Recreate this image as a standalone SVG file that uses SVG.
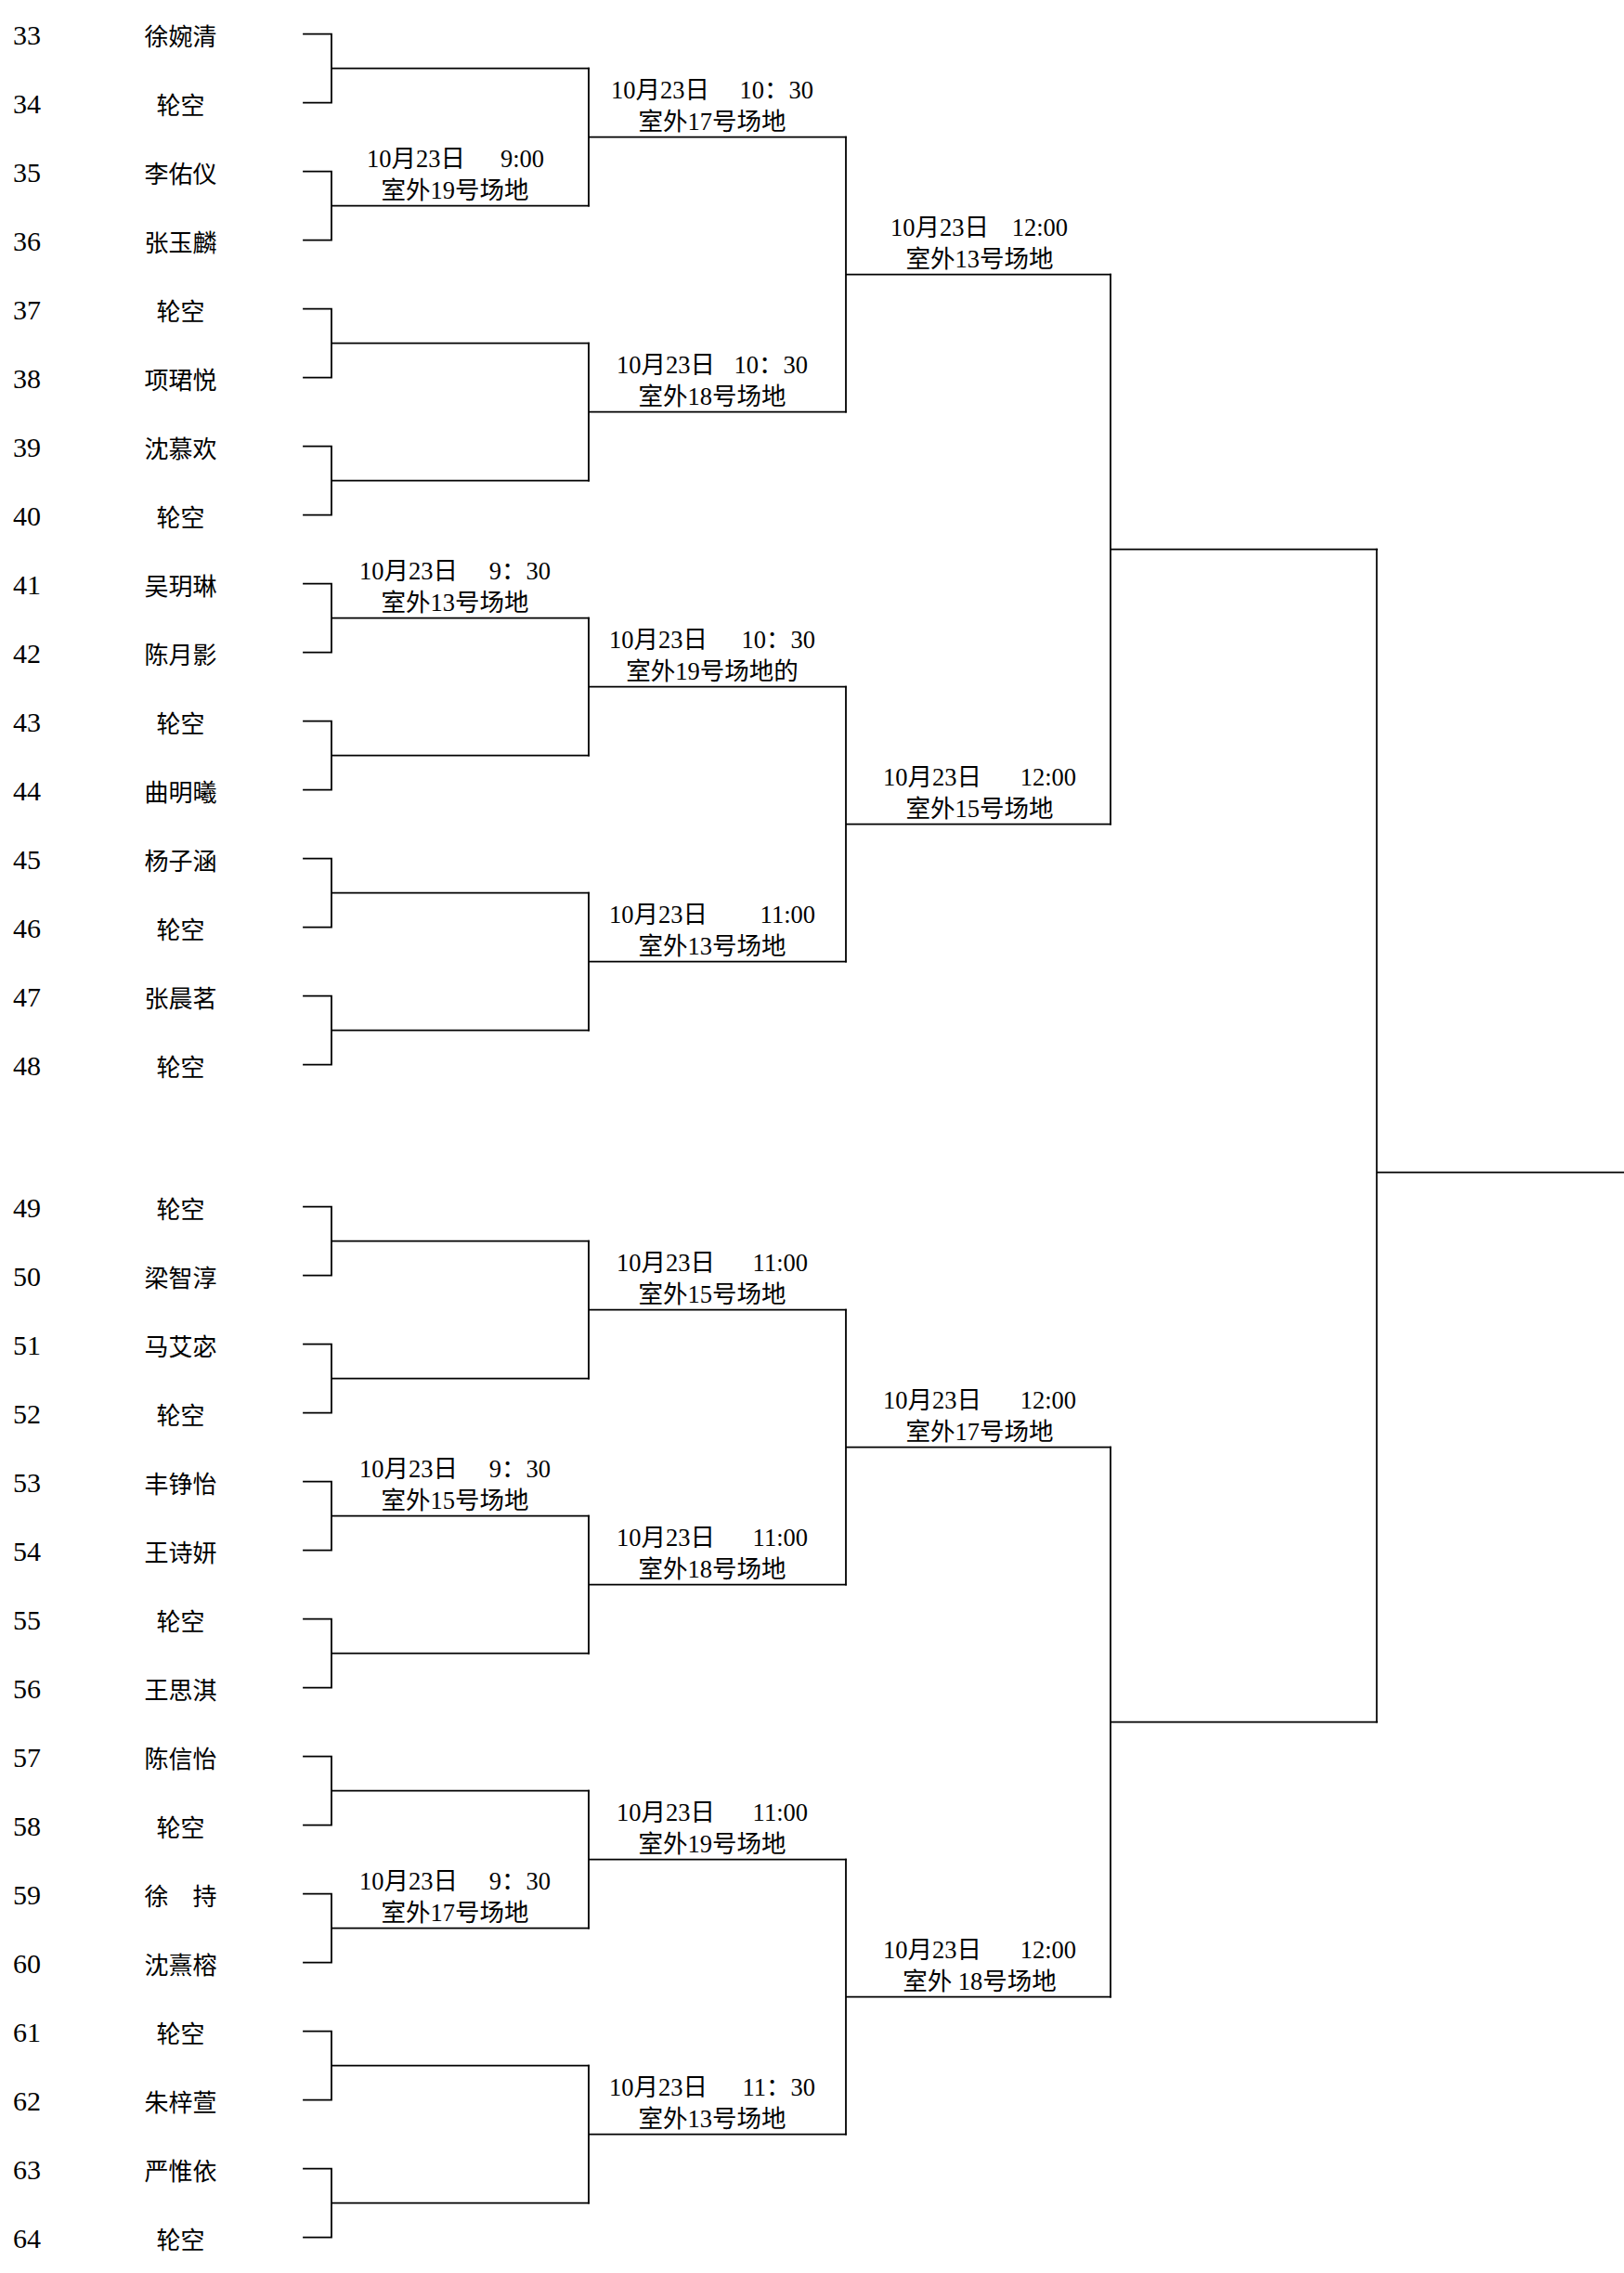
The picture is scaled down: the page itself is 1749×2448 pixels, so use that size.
<svg xmlns="http://www.w3.org/2000/svg" width="1749" height="2448" viewBox="0 0 1749 2448">
<style>
.num{font-family:"Liberation Serif",serif;font-size:30px;fill:#000}
.name{font-family:"Liberation Serif","Noto Sans CJK SC",sans-serif;font-size:26px;fill:#000;text-anchor:middle}
.lbl{font-family:"Liberation Serif","Noto Sans CJK SC",serif;font-size:26.5px;fill:#000}
.c2{text-anchor:middle}
.ln{fill:none;stroke:#000;stroke-width:1.8;stroke-linecap:square;stroke-linejoin:miter}
</style>
<rect x="0" y="0" width="1749" height="2448" fill="#fff"/>
<g id="connectors" class="ln">
<path d="M327 36.7H357V110.7H327M357 73.7H634"/>
<path d="M327 184.7H357V258.7H327M357 221.7H634"/>
<path d="M327 332.7H357V406.7H327M357 369.7H634"/>
<path d="M327 480.7H357V554.7H327M357 517.7H634"/>
<path d="M327 628.7H357V702.7H327M357 665.7H634"/>
<path d="M327 776.7H357V850.7H327M357 813.7H634"/>
<path d="M327 924.7H357V998.7H327M357 961.7H634"/>
<path d="M327 1072.7H357V1146.7H327M357 1109.7H634"/>
<path d="M634 73.7V221.7M634 147.7H911"/>
<path d="M634 369.7V517.7M634 443.7H911"/>
<path d="M634 665.7V813.7M634 739.7H911"/>
<path d="M634 961.7V1109.7M634 1035.7H911"/>
<path d="M911 147.7V443.7M911 295.7H1196"/>
<path d="M911 739.7V1035.7M911 887.7H1196"/>
<path d="M1196 295.7V887.7M1196 591.7H1482.7"/>
<path d="M327 1299.7H357V1373.7H327M357 1336.7H634"/>
<path d="M327 1447.7H357V1521.7H327M357 1484.7H634"/>
<path d="M327 1595.7H357V1669.7H327M357 1632.7H634"/>
<path d="M327 1743.7H357V1817.7H327M357 1780.7H634"/>
<path d="M327 1891.7H357V1965.7H327M357 1928.7H634"/>
<path d="M327 2039.7H357V2113.7H327M357 2076.7H634"/>
<path d="M327 2187.7H357V2261.7H327M357 2224.7H634"/>
<path d="M327 2335.7H357V2409.7H327M357 2372.7H634"/>
<path d="M634 1336.7V1484.7M634 1410.7H911"/>
<path d="M634 1632.7V1780.7M634 1706.7H911"/>
<path d="M634 1928.7V2076.7M634 2002.7H911"/>
<path d="M634 2224.7V2372.7M634 2298.7H911"/>
<path d="M911 1410.7V1706.7M911 1558.7H1196"/>
<path d="M911 2002.7V2298.7M911 2150.7H1196"/>
<path d="M1196 1558.7V2150.7M1196 1854.7H1482.7"/>
<path d="M1482.7 591.7V1854.7M1482.7 1262.7H1749"/>
</g>
<g id="p33" transform="translate(0,36.7)"><text class="num" x="14" y="11.5">33</text><text class="name" x="194.5" y="12">徐婉清</text></g>
<g id="p34" transform="translate(0,110.7)"><text class="num" x="14" y="11.5">34</text><text class="name" x="194.5" y="12">轮空</text></g>
<g id="p35" transform="translate(0,184.7)"><text class="num" x="14" y="11.5">35</text><text class="name" x="194.5" y="12">李佑仪</text></g>
<g id="p36" transform="translate(0,258.7)"><text class="num" x="14" y="11.5">36</text><text class="name" x="194.5" y="12">张玉麟</text></g>
<g id="p37" transform="translate(0,332.7)"><text class="num" x="14" y="11.5">37</text><text class="name" x="194.5" y="12">轮空</text></g>
<g id="p38" transform="translate(0,406.7)"><text class="num" x="14" y="11.5">38</text><text class="name" x="194.5" y="12">项珺悦</text></g>
<g id="p39" transform="translate(0,480.7)"><text class="num" x="14" y="11.5">39</text><text class="name" x="194.5" y="12">沈慕欢</text></g>
<g id="p40" transform="translate(0,554.7)"><text class="num" x="14" y="11.5">40</text><text class="name" x="194.5" y="12">轮空</text></g>
<g id="p41" transform="translate(0,628.7)"><text class="num" x="14" y="11.5">41</text><text class="name" x="194.5" y="12">吴玥琳</text></g>
<g id="p42" transform="translate(0,702.7)"><text class="num" x="14" y="11.5">42</text><text class="name" x="194.5" y="12">陈月影</text></g>
<g id="p43" transform="translate(0,776.7)"><text class="num" x="14" y="11.5">43</text><text class="name" x="194.5" y="12">轮空</text></g>
<g id="p44" transform="translate(0,850.7)"><text class="num" x="14" y="11.5">44</text><text class="name" x="194.5" y="12">曲明曦</text></g>
<g id="p45" transform="translate(0,924.7)"><text class="num" x="14" y="11.5">45</text><text class="name" x="194.5" y="12">杨子涵</text></g>
<g id="p46" transform="translate(0,998.7)"><text class="num" x="14" y="11.5">46</text><text class="name" x="194.5" y="12">轮空</text></g>
<g id="p47" transform="translate(0,1072.7)"><text class="num" x="14" y="11.5">47</text><text class="name" x="194.5" y="12">张晨茗</text></g>
<g id="p48" transform="translate(0,1146.7)"><text class="num" x="14" y="11.5">48</text><text class="name" x="194.5" y="12">轮空</text></g>
<g id="p49" transform="translate(0,1299.7)"><text class="num" x="14" y="11.5">49</text><text class="name" x="194.5" y="12">轮空</text></g>
<g id="p50" transform="translate(0,1373.7)"><text class="num" x="14" y="11.5">50</text><text class="name" x="194.5" y="12">梁智淳</text></g>
<g id="p51" transform="translate(0,1447.7)"><text class="num" x="14" y="11.5">51</text><text class="name" x="194.5" y="12">马艾宓</text></g>
<g id="p52" transform="translate(0,1521.7)"><text class="num" x="14" y="11.5">52</text><text class="name" x="194.5" y="12">轮空</text></g>
<g id="p53" transform="translate(0,1595.7)"><text class="num" x="14" y="11.5">53</text><text class="name" x="194.5" y="12">丰铮怡</text></g>
<g id="p54" transform="translate(0,1669.7)"><text class="num" x="14" y="11.5">54</text><text class="name" x="194.5" y="12">王诗妍</text></g>
<g id="p55" transform="translate(0,1743.7)"><text class="num" x="14" y="11.5">55</text><text class="name" x="194.5" y="12">轮空</text></g>
<g id="p56" transform="translate(0,1817.7)"><text class="num" x="14" y="11.5">56</text><text class="name" x="194.5" y="12">王思淇</text></g>
<g id="p57" transform="translate(0,1891.7)"><text class="num" x="14" y="11.5">57</text><text class="name" x="194.5" y="12">陈信怡</text></g>
<g id="p58" transform="translate(0,1965.7)"><text class="num" x="14" y="11.5">58</text><text class="name" x="194.5" y="12">轮空</text></g>
<g id="p59" transform="translate(0,2039.7)"><text class="num" x="14" y="11.5">59</text><text class="name" x="194.5" y="12">徐　持</text></g>
<g id="p60" transform="translate(0,2113.7)"><text class="num" x="14" y="11.5">60</text><text class="name" x="194.5" y="12">沈熹榕</text></g>
<g id="p61" transform="translate(0,2187.7)"><text class="num" x="14" y="11.5">61</text><text class="name" x="194.5" y="12">轮空</text></g>
<g id="p62" transform="translate(0,2261.7)"><text class="num" x="14" y="11.5">62</text><text class="name" x="194.5" y="12">朱梓萱</text></g>
<g id="p63" transform="translate(0,2335.7)"><text class="num" x="14" y="11.5">63</text><text class="name" x="194.5" y="12">严惟依</text></g>
<g id="p64" transform="translate(0,2409.7)"><text class="num" x="14" y="11.5">64</text><text class="name" x="194.5" y="12">轮空</text></g>
<g id="m-35-36" class="lbl" transform="translate(0,221.7)"><text y="-42"><tspan x="395">10月23日</tspan><tspan x="586" text-anchor="end">9:00</tspan></text><text class="c2" x="490" y="-8">室外19号场地</text></g>
<g id="m-41-42" class="lbl" transform="translate(0,665.7)"><text y="-42"><tspan x="387">10月23日</tspan><tspan x="593" text-anchor="end">9：30</tspan></text><text class="c2" x="490" y="-8">室外13号场地</text></g>
<g id="m-33-36" class="lbl" transform="translate(0,147.7)"><text y="-42"><tspan x="658">10月23日</tspan><tspan x="876" text-anchor="end">10：30</tspan></text><text class="c2" x="767" y="-8">室外17号场地</text></g>
<g id="m-37-40" class="lbl" transform="translate(0,443.7)"><text y="-42"><tspan x="664">10月23日</tspan><tspan x="870" text-anchor="end">10：30</tspan></text><text class="c2" x="767" y="-8">室外18号场地</text></g>
<g id="m-41-44" class="lbl" transform="translate(0,739.7)"><text y="-42"><tspan x="656">10月23日</tspan><tspan x="878" text-anchor="end">10：30</tspan></text><text class="c2" x="767" y="-8">室外19号场地的</text></g>
<g id="m-45-48" class="lbl" transform="translate(0,1035.7)"><text y="-42"><tspan x="656">10月23日</tspan><tspan x="878" text-anchor="end">11:00</tspan></text><text class="c2" x="767" y="-8">室外13号场地</text></g>
<g id="m-33-40" class="lbl" transform="translate(0,295.7)"><text y="-42"><tspan x="959">10月23日</tspan><tspan x="1150" text-anchor="end">12:00</tspan></text><text class="c2" x="1055" y="-8">室外13号场地</text></g>
<g id="m-41-48" class="lbl" transform="translate(0,887.7)"><text y="-42"><tspan x="951">10月23日</tspan><tspan x="1159" text-anchor="end">12:00</tspan></text><text class="c2" x="1055" y="-8">室外15号场地</text></g>
<g id="m-49-52" class="lbl" transform="translate(0,1410.7)"><text y="-42"><tspan x="664">10月23日</tspan><tspan x="870" text-anchor="end">11:00</tspan></text><text class="c2" x="767" y="-8">室外15号场地</text></g>
<g id="m-53-54" class="lbl" transform="translate(0,1632.7)"><text y="-42"><tspan x="387">10月23日</tspan><tspan x="593" text-anchor="end">9：30</tspan></text><text class="c2" x="490" y="-8">室外15号场地</text></g>
<g id="m-53-56" class="lbl" transform="translate(0,1706.7)"><text y="-42"><tspan x="664">10月23日</tspan><tspan x="870" text-anchor="end">11:00</tspan></text><text class="c2" x="767" y="-8">室外18号场地</text></g>
<g id="m-57-60" class="lbl" transform="translate(0,2002.7)"><text y="-42"><tspan x="664">10月23日</tspan><tspan x="870" text-anchor="end">11:00</tspan></text><text class="c2" x="767" y="-8">室外19号场地</text></g>
<g id="m-59-60" class="lbl" transform="translate(0,2076.7)"><text y="-42"><tspan x="387">10月23日</tspan><tspan x="593" text-anchor="end">9：30</tspan></text><text class="c2" x="490" y="-8">室外17号场地</text></g>
<g id="m-61-64" class="lbl" transform="translate(0,2298.7)"><text y="-42"><tspan x="656">10月23日</tspan><tspan x="878" text-anchor="end">11：30</tspan></text><text class="c2" x="767" y="-8">室外13号场地</text></g>
<g id="m-49-56" class="lbl" transform="translate(0,1558.7)"><text y="-42"><tspan x="951">10月23日</tspan><tspan x="1159" text-anchor="end">12:00</tspan></text><text class="c2" x="1055" y="-8">室外17号场地</text></g>
<g id="m-57-64" class="lbl" transform="translate(0,2150.7)"><text y="-42"><tspan x="951">10月23日</tspan><tspan x="1159" text-anchor="end">12:00</tspan></text><text class="c2" x="1055" y="-8" xml:space="preserve">室外 18号场地</text></g>
</svg>
